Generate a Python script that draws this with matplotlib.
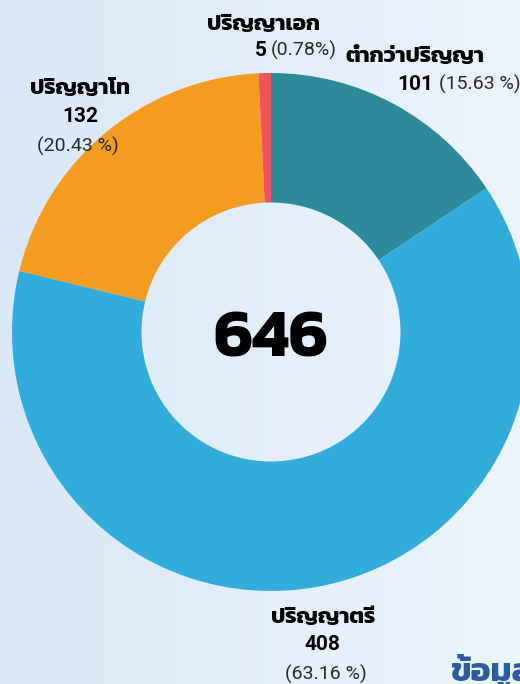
import matplotlib
matplotlib.use("Agg")
import matplotlib.pyplot as plt
import numpy as np
from matplotlib import font_manager
from matplotlib.ft2font import FT2Font

# data
categories = ["ต่ำกว่าปริญญา", "ปริญญาตรี", "ปริญญาโท", "ปริญญาเอก"]
counts = [101, 408, 132, 5]
percents = ["(15.63 %)", "(63.16 %)", "(20.43 %)", "(0.78%)"]
colors = ["#2E8A9B", "#31ACDB", "#F39C1F", "#EF5458"]
total = 646


def find_thai_font():
    found = []
    for f in font_manager.fontManager.ttflist:
        try:
            ft = FT2Font(f.fname)
            if ft.get_char_index(0x0E1B) and ft.get_char_index(0x0E0D):
                found.append(f.name)
        except Exception:
            pass
    # prefer loopless families, closer to the original look
    prefs = ["Kanit", "Prompt", "Sarabun", "Noto Sans Thai UI", "Noto Sans Thai"]
    for p in prefs:
        for n in found:
            if n == p:
                return [n]
    return found[:1]


thai = find_thai_font()
plt.rcParams["font.family"] = thai + ["DejaVu Sans"]
digits = ["Roboto"] + thai + ["DejaVu Sans"]

W, H = 520, 684
fig = plt.figure(figsize=(W / 100, H / 100), dpi=100)
ax = fig.add_axes([0, 0, 1, 1])

# background gradient
grad = np.linspace(0, 1, 256)[None, :]
c0 = np.array([217, 232, 248]) / 255
c1 = np.array([236, 244, 252]) / 255
img = c0[None, None, :] * (1 - grad[..., None]) + c1[None, None, :] * grad[..., None]
ax.imshow(img, extent=[0, W, 0, H], aspect="auto", zorder=0)

cx, cy, R = 271, H - 332, 259
ax.pie(counts, colors=colors, startangle=90, counterclock=False,
       center=(cx, cy), radius=R,
       wedgeprops=dict(width=R * 0.5, edgecolor="none"))

ax.text(cx, cy - 9, str(total), ha="center", va="center", fontsize=48,
        fontweight="bold", color="black")


def py(y):
    return H - y


lab = dict(fontsize=16, fontweight="bold", va="center")
num = dict(fontsize=15, fontweight="bold", va="center", family=digits)
pct = dict(fontsize=14, va="center", color="#2a2a2a", family=digits)

# ต่ำกว่าปริญญา
ax.text(415, py(56), categories[0], ha="center", **lab)
ax.text(397, py(84), str(counts[0]), ha="left", **num)
ax.text(439, py(84), percents[0], ha="left", **pct)

# ปริญญาตรี
ax.text(323, py(617), categories[1], ha="center", **lab)
ax.text(322, py(645), str(counts[1]), ha="center", **num)
ax.text(326, py(674), percents[1], ha="center", **pct)

# ปริญญาโท
ax.text(80, py(88), categories[2], ha="center", **lab)
ax.text(80, py(116), str(counts[2]), ha="center", **num)
ax.text(78, py(146), percents[2], ha="center", **pct)

# ปริญญาเอก
ax.text(264, py(24), categories[3], ha="center", **lab)
ax.text(267, py(50), str(counts[3]), ha="right", **num)
ax.text(271, py(50), percents[3], ha="left", **pct)

# cut-off caption at bottom right
ax.text(450, py(690), "ข้อมูล", ha="left", va="bottom", fontsize=24,
        fontweight="bold", color="#2B5C9E")

ax.set_xlim(0, W)
ax.set_ylim(0, H)
ax.set_aspect("auto")
ax.axis("off")

fig.savefig("out.png", dpi=100)
